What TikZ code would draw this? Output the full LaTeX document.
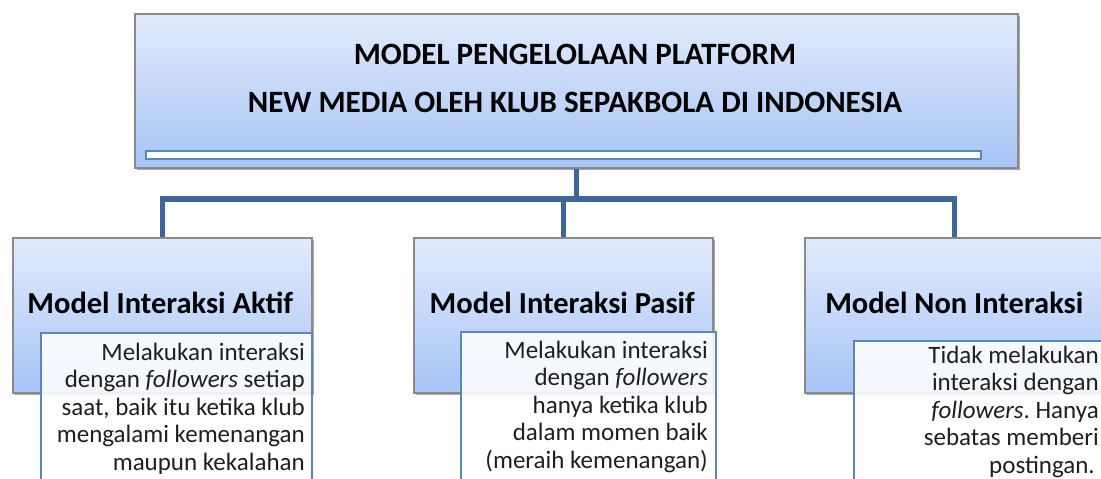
\documentclass[tikz,border=0pt]{standalone}
\usepackage{fontspec}
\setmainfont{Carlito}
\frenchspacing
\usetikzlibrary{shadows}
\definecolor{conn}{HTML}{3E6799}
\definecolor{boxtop}{HTML}{E2EBFC}
\definecolor{boxbot}{HTML}{A6C4F6}
\definecolor{boxline}{HTML}{8A8A8A}
\definecolor{descline}{HTML}{5A86BD}
\tikzset{
  gradbox/.style={draw=boxline, line width=1.5pt, top color=boxtop, bottom color=boxbot,
    rectangle, inner sep=0pt, anchor=north west,
    drop shadow={shadow xshift=2.5pt, shadow yshift=-2.5pt, opacity=0.35, fill=black}},
  descbox/.style={draw=descline, line width=2pt, fill=white, fill opacity=0.88,
    rectangle, inner sep=0pt, anchor=north west},
  barbox/.style={draw=descline, line width=1.8pt, fill=white, rectangle, inner sep=0pt, anchor=north west},
  connline/.style={draw=conn, line width=5.5pt, line join=miter},
  titletext/.style={font=\fontsize{31}{48}\selectfont\bfseries, align=center, inner sep=0pt},
  hdrtext/.style={font=\fontsize{30.5}{36}\selectfont\bfseries, inner sep=0pt, anchor=base},
  desctext/.style={font=\fontsize{25}{27.5}\selectfont, align=right, inner sep=0pt, anchor=base east, text=black!88},
}
\begin{document}
\begin{tikzpicture}[x=1pt,y=-1pt]
\useasboundingbox (0,0) rectangle (1101,479);
\clip (0,0) rectangle (1101,479);
% boxes
\node[gradbox, minimum width=883pt, minimum height=154pt] (main) at (134,13) {};
\node[gradbox, minimum width=299pt, minimum height=155pt] (c1) at (12,237) {};
\node[gradbox, minimum width=299pt, minimum height=155pt] (c2) at (413,237) {};
\node[gradbox, minimum width=299pt, minimum height=155pt] (c3) at (804,237) {};
% connectors
\coordinate (j) at (575,199);
\draw[connline] (main.south) -- (main.south |- j);
\draw[connline] (c1.north) |- (j) -| (c3.north);
\draw[connline] (c2.north) -- (c2.north |- j);
% title bar
\node[barbox, minimum width=835pt, minimum height=8pt] (bar) at (145,150) {};
\node[titletext, anchor=base] (title) at (575,112) {MODEL PENGELOLAAN PLATFORM\\NEW MEDIA OLEH KLUB SEPAKBOLA DI INDONESIA};
% headers
\path (c1.north) ++(-2,76) node[hdrtext] (h1) {Model Interaksi Aktif};
\path (c2.north) ++(-1,76) node[hdrtext] (h2) {Model Interaksi Pasif};
\path (c3.north) ++(0,76) node[hdrtext] (h3) {Model Non Interaksi};
% descriptions
\node[descbox, minimum width=271pt, minimum height=170pt] (d1) at (40,332) {};
\node[descbox, minimum width=255pt, minimum height=170pt] (d2) at (460,331) {};
\node[descbox, minimum width=260pt, minimum height=170pt] (d3) at (853,340) {};
\node[desctext] (t1) at (305,470) {Melakukan interaksi\\dengan \textit{followers} setiap\\saat, baik itu ketika klub\\mengalami kemenangan\\maupun kekalahan};
\node[desctext] (t2) at (708,468) {Melakukan interaksi\\dengan \textit{followers}\\hanya ketika klub\\dalam momen baik\\(meraih kemenangan)};
\node[desctext] (t3) at (1099,473) {Tidak melakukan\\interaksi dengan\\\textit{followers}. Hanya\\sebatas memberi\\postingan.\hspace*{4pt}};
\end{tikzpicture}
\end{document}
